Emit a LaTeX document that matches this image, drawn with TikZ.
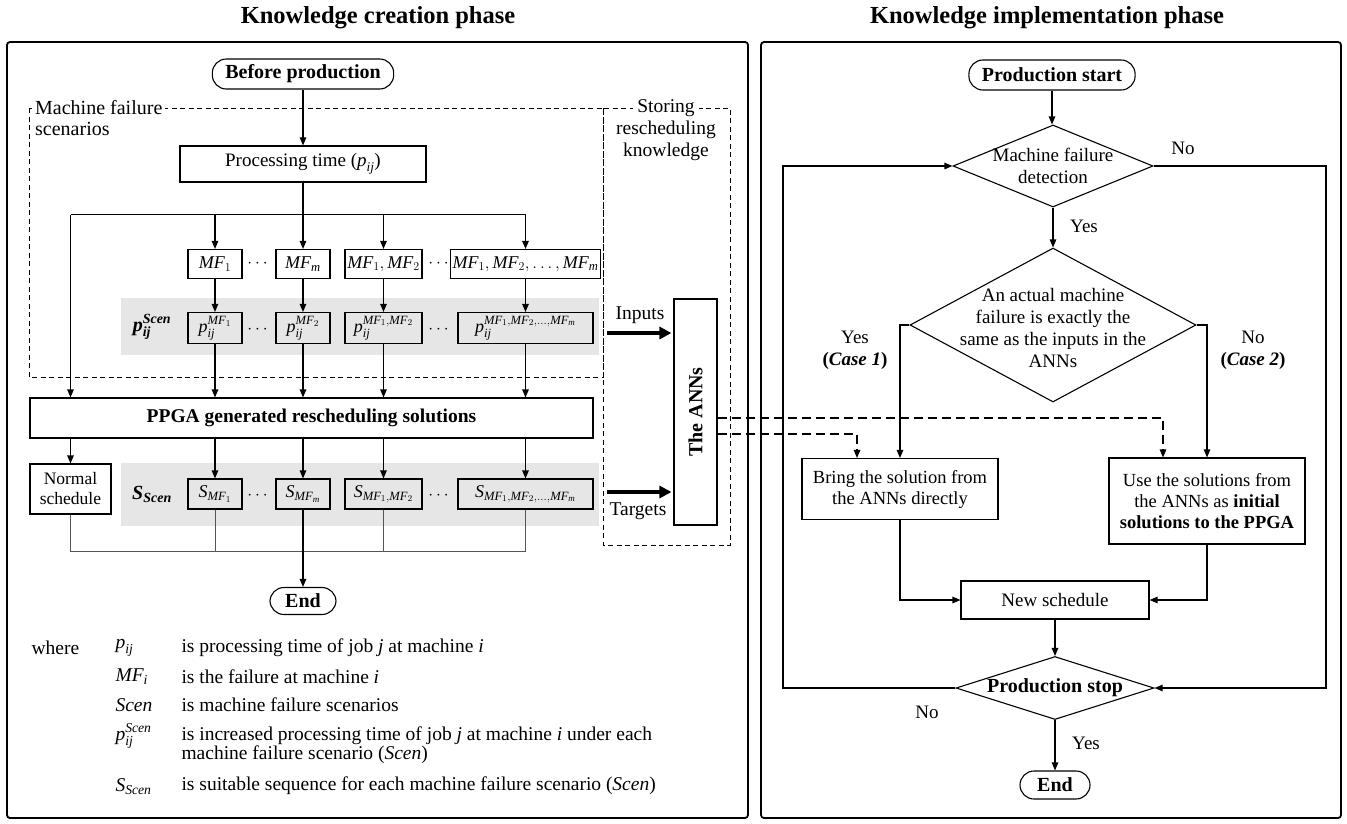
\documentclass[tikz,border=0pt]{standalone}
\usepackage{amsmath}
\usepackage{fontspec}
\setmainfont{Liberation Serif}
\usetikzlibrary{shapes.geometric,arrows.meta,calc}

\definecolor{bandgray}{RGB}{230,230,230}
\definecolor{linkgray}{RGB}{85,85,85}
\newcommand{\fz}[2]{\fontsize{#1}{#2}\selectfont}
% italic and bold-italic symbols set in the text face
\newcommand{\vi}[1]{\textit{#1}}
\newcommand{\vb}[1]{\textbf{\textit{#1}}}

\tikzset{
  >={Triangle[length=8pt,width=6.5pt]},
  wire/.style={line width=1.1pt},
  flow/.style={wire,->},
  dflow/.style={wire,->,dash pattern=on 9pt off 5pt},
  joinline/.style={line width=1pt,draw=linkgray},
  frame/.style={line width=1.8pt,rounded corners=3pt},
  zone/.style={line width=1pt,dash pattern=on 5pt off 3.5pt},
  box/.style={draw,line width=1.1pt,align=center,inner sep=2pt,font=\fz{19}{22}},
  mbox/.style={box,font=\fz{18}{21},minimum height=29pt},
  term/.style={draw,line width=1.1pt,rounded corners=14pt,inner xsep=13pt,
               minimum height=30pt,font=\fz{20}{23}\bfseries},
  dshape/.style={draw,diamond,line width=1.1pt,inner sep=0pt},
  txt/.style={align=center,font=\fz{19}{22}},
  lgd/.style={anchor=west,font=\fz{19.5}{22}},
  bigarrow/.style={line width=4pt,-{Triangle[length=12pt,width=12pt]}},
}

\begin{document}
\begin{tikzpicture}[x=1pt,y=-1pt]
\useasboundingbox (0,0) rectangle (1347,823);
\fill[white] (0,0) rectangle (1347,823);

% ---------- headings and frames ----------
\node[font=\fz{24.5}{28}\bfseries] (headL) at (378,18) {Knowledge creation phase};
\node[font=\fz{24.5}{28}\bfseries] (headR) at (1047,18) {Knowledge implementation phase};
\draw[frame] (7,42) rectangle (748,818);
\draw[frame] (761,42) rectangle (1341,818);

% ---------- shaded rows ----------
\fill[bandgray] (121,298) rectangle (599,355);
\fill[bandgray] (121,463) rectangle (599,526);

% ---------- dashed groups ----------
\draw[zone] (29,108) rectangle (603,377);
\draw[zone] (603,108) rectangle (730,545);
\node[fill=white,inner sep=3pt,anchor=west,font=\fz{20}{23}] (mfsA) at (32,108) {Machine failure};
\node[inner sep=0pt,anchor=west,font=\fz{20}{23}] (mfsB) at (35,129) {scenarios};
\node[fill=white,inner xsep=4pt,inner ysep=2pt,font=\fz{19.5}{22}] (stA) at (666,108) {Storing};
\node[txt,font=\fz{19.5}{22}] (stB) at (666,141) {rescheduling\\knowledge};

% ---------- knowledge creation flow ----------
\node[term] (bp) at (303,74) {Before production};
\node[box,minimum width=246pt,minimum height=36pt] (pt) at (303,164) {Processing time ($\vi{p}_{\vi{ij}}$)};

\node[mbox,fill=white,minimum width=54pt] (mf1) at (215,264) {$\vi{MF}_1$};
\node[font=\fz{17}{20}] (dA) at (259,264) {$\cdots$};
\node[mbox,fill=white,minimum width=54pt] (mfm) at (303,264) {$\vi{MF}_{\vi{m}}$};
\node[mbox,fill=white,minimum width=77pt] (mf12) at (383.5,264) {$\vi{MF}_1,\vi{MF}_2$};
\node[font=\fz{17}{20}] (dB) at (440,264) {$\cdots$};
\node[mbox,fill=white,minimum width=135pt] (mfa) at (525.5,264) {$\vi{MF}_1,\vi{MF}_2,\ldots,\vi{MF}_{\vi{m}}$};

\node[font=\fz{20}{23}] (pS) at (152,327) {$\vb{p}_{\vb{ij}}^{\vb{Scen}}$};
\node[mbox,minimum width=54pt,minimum height=31pt] (p1) at (215,328) {$\vi{p}_{\vi{ij}}^{\vi{MF}_1}$};
\node[font=\fz{17}{20}] (dC) at (259,330) {$\cdots$};
\node[mbox,minimum width=54pt,minimum height=31pt] (pm) at (303,328) {$\vi{p}_{\vi{ij}}^{\vi{MF}_2}$};
\node[mbox,minimum width=77pt,minimum height=31pt] (p12) at (383.5,328) {$\vi{p}_{\vi{ij}}^{\vi{MF}_1,\vi{MF}_2}$};
\node[font=\fz{17}{20}] (dD) at (440,330) {$\cdots$};
\node[mbox,minimum width=135pt,minimum height=31pt] (pa) at (525.5,328) {$\vi{p}_{\vi{ij}}^{\vi{MF}_1,\vi{MF}_2,\ldots,\vi{MF}_{\vi{m}}}$};

\node[box,minimum width=563pt,minimum height=40pt,font=\fz{19.5}{23}\bfseries] (ppga) at (311.5,418)
  {PPGA generated rescheduling solutions};

\node[box,minimum width=81pt,minimum height=50pt,font=\fz{17.5}{20}] (ns) at (70.5,489) {Normal\\schedule};
\node[font=\fz{20}{23}] (sS) at (152,494) {$\vb{S}_{\vb{Scen}}$};
\node[mbox,minimum width=54pt,minimum height=30pt] (s1) at (215,494) {$\vi{S}_{\vi{MF}_1}$};
\node[font=\fz{17}{20}] (dE) at (259,496) {$\cdots$};
\node[mbox,minimum width=54pt,minimum height=30pt] (sm) at (303,494) {$\vi{S}_{\vi{MF}_{\vi{m}}}$};
\node[mbox,minimum width=77pt,minimum height=30pt] (s12) at (383.5,494) {$\vi{S}_{\vi{MF}_1,\vi{MF}_2}$};
\node[font=\fz{17}{20}] (dF) at (440,496) {$\cdots$};
\node[mbox,minimum width=135pt,minimum height=30pt] (sa) at (525.5,494) {$\vi{S}_{\vi{MF}_1,\vi{MF}_2,\ldots,\vi{MF}_{\vi{m}}}$};

\node[term,minimum width=66pt,inner xsep=6pt,minimum height=27pt] (endL) at (303,601) {End};

% ANN block with its inputs and targets
\node[draw,line width=1.1pt,minimum width=43pt,minimum height=226pt,inner sep=0pt] (anns) at (695.5,412) {};
\node[rotate=90,font=\fz{20}{23}\bfseries] (annsT) at (anns.center) {The ANNs};
\coordinate (inA) at (607,333);
\coordinate (tgA) at (607,492);
\draw[bigarrow,shorten >=2pt] (inA) -- (inA -| anns.west);
\draw[bigarrow,shorten >=2pt] (tgA) -- (tgA -| anns.west);
\node[font=\fz{19.5}{22}] (inL) at (640,315) {Inputs};
\node[font=\fz{19.5}{22}] (tgL) at (638,511) {Targets};

% connectors of the creation phase
\draw[flow] (bp.south) -- (pt.north);
\path (pt.south) ++(0,32) coordinate (brM);
\draw[wire] (ns.north |- brM) -- (mfa.north |- brM);
\draw[flow] (pt.south) -- (mfm.north);
\draw[flow] (mf1.north |- brM) -- (mf1.north);
\draw[flow] (mf12.north |- brM) -- (mf12.north);
\draw[flow] (mfa.north |- brM) -- (mfa.north);
\draw[flow] (ns.north |- brM) -- (ns.north |- ppga.north);
\foreach \a/\b in {mf1/p1,mfm/pm,mf12/p12,mfa/pa}{
  \draw[flow] (\a.south) -- (\b.north);
  \draw[flow] (\b.south) -- (\b.south |- ppga.north);
}
\foreach \s in {s1,sm,s12,sa}{
  \draw[flow] (\s.north |- ppga.south) -- (\s.north);
}
\draw[flow] (ns.north |- ppga.south) -- (ns.north);
\path (ns.south) ++(0,37) coordinate (bot);
\draw[joinline] (ns.south) -- (ns.south |- bot) -- (sa.south |- bot) -- (sa.south);
\draw[joinline] (s1.south) -- (s1.south |- bot);
\draw[joinline] (s12.south) -- (s12.south |- bot);
\draw[flow] (sm.south) -- (endL.north);

% ---------- legend ----------
\node[lgd] (lgW) at (28,648) {where};
\node[lgd] (lg1s) at (112,648) {$\vi{p}_{\vi{ij}}$};
\node[lgd] (lg1t) at (178,648) {is processing time of job \vi{j} at machine \vi{i}};
\node[lgd] (lg2s) at (112,677) {$\vi{MF}_{\vi{i}}$};
\node[lgd] (lg2t) at (178,677) {is the failure at machine \vi{i}};
\node[lgd] (lg3s) at (112,705) {\vi{Scen}};
\node[lgd] (lg3t) at (178,705) {is machine failure scenarios};
\node[lgd] (lg4s) at (112,736) {$\vi{p}_{\vi{ij}}^{\vi{Scen}}$};
\node[lgd,anchor=north west,align=left,font=\fz{19.5}{19.5}] (lg4t) at (178,723)
  {is increased processing time of job \vi{j} at machine \vi{i} under each\\machine failure scenario (\vi{Scen})};
\node[lgd] (lg5s) at (112,787) {$\vi{S}_{\vi{Scen}}$};
\node[lgd] (lg5t) at (178,786) {is suitable sequence for each machine failure scenario (\vi{Scen})};

% ---------- knowledge implementation flow ----------
\node[term] (ps) at (1052,75) {Production start};
\node[dshape,minimum width=200pt,minimum height=82pt] (d1) at (1053,166) {};
\node[txt] (d1t) at (d1.center) {Machine failure\\detection};
\node[dshape,minimum width=286pt,minimum height=154pt] (d2) at (1053,325) {};
\node[txt,font=\fz{19}{22.3}] (d2t) at (1053,328) {An actual machine\\failure is exactly the\\same as the inputs in the\\ANNs};
\node[box,font=\fz{18.5}{21},minimum width=196pt,minimum height=61pt] (bring) at (900,489) {Bring the solution from\\the ANNs directly};
\node[box,font=\fz{18.5}{21},minimum width=196pt,minimum height=86pt] (use) at (1207,501)
  {Use the solutions from\\the ANNs as \textbf{initial}\\\textbf{solutions to the PPGA}};
\node[box,minimum width=188pt,minimum height=38pt] (ns2) at (1055,600) {New schedule};
\node[dshape,minimum width=198pt,minimum height=63pt] (d3) at (1055,688) {};
\node[txt,font=\fz{20}{23}\bfseries] (d3t) at (d3.center) {Production stop};
\node[term,minimum width=70pt,inner xsep=6pt,minimum height=28pt] (endR) at (1055,785) {End};

\draw[flow] (ps.south) -- (ps.south |- d1.north);
\draw[flow] (d1.south) -- (d2.north);
\draw[flow] (d2.west) -| (bring.north);
\draw[flow] (d2.east) -| (use.north);
\draw[flow] (bring.south) |- (ns2.west);
\draw[flow] (use.south) |- (ns2.east);
\draw[flow] (ns2.south) -- (d3.north);
\draw[flow] (d3.south) -- (endR.north);
\coordinate (loopL) at (783,400);
\coordinate (loopR) at (1326,400);
\draw[flow] (d3.west) -| (loopL) |- (d1.west);
\draw[flow] (d1.east) -| (loopR) |- (d3.east);

% links from the trained networks
\coordinate (ka) at ([yshift=-6pt]anns.east);
\coordinate (kb) at ([yshift=-22pt]anns.east);
\draw[dflow] (ka) -| ([xshift=-44pt]use.north);
\draw[dflow] (kb) -| ([xshift=-43pt]bring.north);

% branch labels
\node[txt] (lbNo1) at (1183,148) {No};
\node[txt] (lbYes1) at (1084,226) {Yes};
\node[txt] (lbC1) at (855,350) {Yes\\\textbf{(\textit{Case 1})}};
\node[txt] (lbC2) at (1253,350) {No\\\textbf{(\textit{Case 2})}};
\node[txt] (lbNo2) at (927,712) {No};
\node[txt] (lbYes2) at (1086,743) {Yes};
\end{tikzpicture}
\end{document}
